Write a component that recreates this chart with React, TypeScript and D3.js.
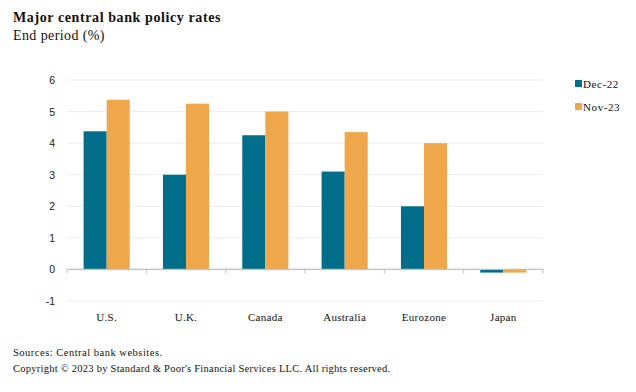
import React, { useRef, useEffect } from 'react';
import * as d3 from 'd3';

// Chart data
const categories = ['U.S.', 'U.K.', 'Canada', 'Australia', 'Eurozone', 'Japan'];
const seriesNames = ['Dec-22', 'Nov-23'];
const dec22 = [4.375, 3.0, 4.25, 3.1, 2.0, -0.1];
const nov23 = [5.375, 5.25, 5.0, 4.35, 4.0, -0.1];
const yTicks = [-1, 0, 1, 2, 3, 4, 5, 6];
const colors = ['#006E8A', '#F0A64A'];

const width = 636;
const height = 392;
const serif = '"Liberation Serif", "Times New Roman", serif';
const sans = '"Liberation Sans", Arial, sans-serif';

const App: React.FC = () => {
  const svgRef = useRef<SVGSVGElement>(null);

  useEffect(() => {
    if (!svgRef.current) return;
    const svg = d3.select(svgRef.current);
    svg.selectAll('*').remove();

    const left = 67, right = 543, top = 80, bottom = 301;

    const x = d3.scaleBand<string>().domain(categories).range([left, right]);
    const y = d3.scaleLinear().domain([-1, 6]).range([bottom, top]);
    const inner = d3.scaleBand<string>()
      .domain(seriesNames)
      .range([0, x.bandwidth()])
      .paddingInner(0)
      .paddingOuter(0.72);

    // Gridlines
    svg.append('g')
      .selectAll('line')
      .data(yTicks)
      .enter().append('line')
      .attr('x1', left)
      .attr('x2', right)
      .attr('y1', d => y(d))
      .attr('y2', d => y(d))
      .attr('stroke', '#ebebeb')
      .attr('stroke-width', 1);

    // Y labels
    svg.append('g')
      .selectAll('text')
      .data(yTicks)
      .enter().append('text')
      .attr('x', 55)
      .attr('y', d => y(d) + 4)
      .attr('text-anchor', 'end')
      .attr('font-family', sans)
      .attr('font-size', 10.5)
      .attr('fill', '#222')
      .text(d => String(d));

    // Bars
    const series = [dec22, nov23];
    series.forEach((vals, si) => {
      svg.append('g')
        .selectAll('rect')
        .data(vals)
        .enter().append('rect')
        .attr('x', (_, i) => (x(categories[i]) as number) + (inner(seriesNames[si]) as number))
        .attr('width', inner.bandwidth())
        .attr('y', d => Math.min(y(d), y(0)))
        .attr('height', d => Math.abs(y(d) - y(0)))
        .attr('fill', colors[si]);
    });

    // Zero axis with ticks
    svg.append('line')
      .attr('x1', left)
      .attr('x2', right)
      .attr('y1', y(0))
      .attr('y2', y(0))
      .attr('stroke', '#bfbfbf')
      .attr('stroke-width', 1.2);

    const tickXs = categories.map(c => x(c) as number).concat([right]);
    svg.append('g')
      .selectAll('line')
      .data(tickXs)
      .enter().append('line')
      .attr('x1', d => d)
      .attr('x2', d => d)
      .attr('y1', y(0))
      .attr('y2', y(0) + 4)
      .attr('stroke', '#bfbfbf');

    // Category labels
    svg.append('g')
      .selectAll('text')
      .data(categories)
      .enter().append('text')
      .attr('x', d => (x(d) as number) + x.bandwidth() / 2)
      .attr('y', 321)
      .attr('text-anchor', 'middle')
      .attr('font-family', serif)
      .attr('font-size', 11)
      .attr('letter-spacing', 0.3)
      .attr('fill', '#111')
      .text(d => d);

    // Legend
    const legend = svg.append('g');
    seriesNames.forEach((name, i) => {
      const ly = 84 + i * 23;
      legend.append('rect')
        .attr('x', 575)
        .attr('y', ly - 4)
        .attr('width', 7)
        .attr('height', 7)
        .attr('fill', colors[i]);
      legend.append('text')
        .attr('x', 583)
        .attr('y', ly + 3.5)
        .attr('font-family', serif)
        .attr('font-size', 11)
        .attr('letter-spacing', 0.6)
        .attr('fill', '#111')
        .text(name);
    });

    // Titles
    svg.append('text')
      .attr('x', 13)
      .attr('y', 22)
      .attr('font-family', serif)
      .attr('font-weight', 'bold')
      .attr('font-size', 14)
      .attr('letter-spacing', 0.6)
      .attr('fill', '#111')
      .text('Major central bank policy rates');
    svg.append('text')
      .attr('x', 13)
      .attr('y', 40)
      .attr('font-family', serif)
      .attr('font-size', 14)
      .attr('letter-spacing', 0.4)
      .attr('fill', '#111')
      .text('End period (%)');

    // Footer
    svg.append('text')
      .attr('x', 13)
      .attr('y', 356)
      .attr('font-family', serif)
      .attr('font-size', 10.5)
      .attr('letter-spacing', 0.5)
      .attr('fill', '#111')
      .text('Sources: Central bank websites.');
    svg.append('text')
      .attr('x', 13)
      .attr('y', 372)
      .attr('font-family', serif)
      .attr('font-size', 10.5)
      .attr('letter-spacing', 0.25)
      .attr('fill', '#111')
      .text("Copyright \u00A9 2023 by Standard & Poor's Financial Services LLC. All rights reserved.");
  }, []);

  return (
    <svg
      ref={svgRef}
      width={width}
      height={height}
      style={{ position: 'absolute', left: 0, top: 0, background: '#fff' }}
    />
  );
};

export default App;
